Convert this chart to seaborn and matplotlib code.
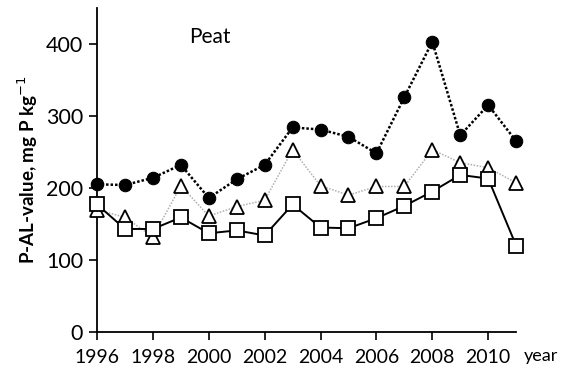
import matplotlib
matplotlib.use("Agg")
import matplotlib.pyplot as plt
import seaborn as sns
import numpy as np

years = list(range(1996, 2012))
circles = [205, 204, 214, 232, 186, 212, 232, 284, 281, 271, 248, 326, 403, 273, 315, 265]
triangles = [170, 159, 132, 203, 161, 174, 183, 253, 203, 190, 202, 202, 253, 235, 228, 207]
squares = [177, 143, 143, 159, 137, 141, 134, 177, 145, 144, 158, 175, 195, 218, 213, 120]

x_ticks = [1996, 1998, 2000, 2002, 2004, 2006, 2008, 2010]
y_ticks = [0, 100, 200, 300, 400]

sns.set_theme(style="white")
plt.rcParams["font.family"] = ["Lato", "DejaVu Sans"]

fig = plt.figure(figsize=(5.61, 3.73), dpi=100)
ax = fig.add_axes([0.173, 0.110, 0.747, 0.869])

sns.lineplot(x=years, y=triangles, ax=ax, color="#b0b0b0", linestyle=(0, (1, 1)),
             linewidth=1.1, marker="^", markersize=10, markerfacecolor="white",
             markeredgecolor="black", markeredgewidth=1.3, clip_on=False, zorder=3)
sns.lineplot(x=years, y=squares, ax=ax, color="black", linestyle="-",
             linewidth=1.4, marker="s", markersize=9.5, markerfacecolor="white",
             markeredgecolor="black", markeredgewidth=1.3, clip_on=False, zorder=4)
sns.lineplot(x=years, y=circles, ax=ax, color="black", linestyle=(0, (1, 0.8)),
             linewidth=1.8, marker="o", markersize=9, markerfacecolor="black",
             markeredgecolor="black", clip_on=False, zorder=5)

ax.set_xlim(1996, 2011)
ax.set_ylim(0, 450)
ax.set_xticks(x_ticks)
ax.set_yticks(y_ticks)
ax.tick_params(axis="y", labelsize=15.5, direction="out", length=6, width=1.2,
               left=True, pad=4, colors="black")
ax.tick_params(axis="x", labelsize=14, direction="out", length=6, width=1.2,
               bottom=True, pad=6, colors="black")

for side in ["top", "right"]:
    ax.spines[side].set_visible(False)
for side in ["left", "bottom"]:
    ax.spines[side].set_color("black")
    ax.spines[side].set_linewidth(1.3)

ax.set_ylabel("P-AL-value, mg P kg$^{-1}$", fontsize=13.5, fontweight="bold",
              color="black", labelpad=4)
ax.text(0.27, 0.91, "Peat", transform=ax.transAxes, fontsize=15, color="black",
        ha="center", va="center")
ax.text(1.1, -0.075, "year", transform=ax.transAxes, fontsize=13, color="black",
        ha="right", va="center")

fig.savefig("out.png", dpi=100)
